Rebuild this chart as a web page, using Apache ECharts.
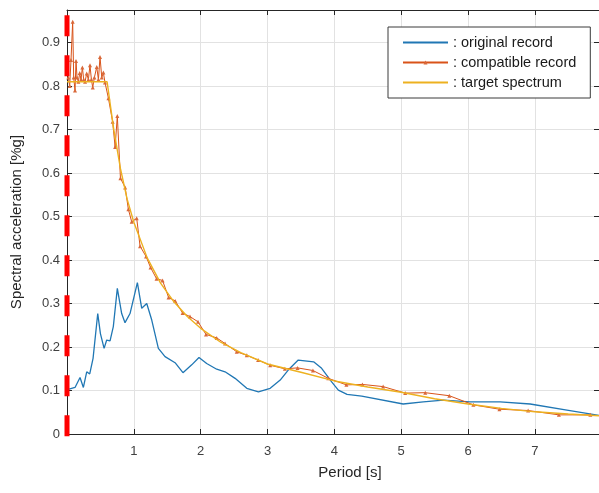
<!DOCTYPE html>
<html>
<head>
<meta charset="utf-8">
<script src="https://cdn.jsdelivr.net/npm/echarts@6/dist/echarts.min.js"></script>
<style>
html,body{margin:0;padding:0;background:#fff;}
#c{width:599px;height:493px;}
</style>
</head>
<body>
<div id="c"></div>
<script>
// ---- data ----
const xTickLabels = ['1','2','3','4','5','6','7'];
const yTickLabels = ['0','0.1','0.2','0.3','0.4','0.5','0.6','0.7','0.8','0.9'];
const seriesNames = [': original record', ': compatible record', ': target spectrum'];

const originalRecord = [
  [0.03,0.103],[0.12,0.107],[0.195,0.13],[0.245,0.107],[0.295,0.143],[0.34,0.138],[0.39,0.174],
  [0.46,0.277],[0.5,0.231],[0.555,0.197],[0.594,0.216],[0.644,0.214],[0.693,0.247],[0.753,0.335],
  [0.818,0.277],[0.868,0.256],[0.943,0.277],[1.053,0.348],[1.118,0.289],[1.193,0.300],[1.268,0.262],
  [1.367,0.197],[1.467,0.178],[1.617,0.164],[1.735,0.141],[1.866,0.159],[1.975,0.176],[2.09,0.162],
  [2.24,0.149],[2.365,0.143],[2.515,0.128],[2.69,0.105],[2.864,0.097],[3.04,0.105],[3.19,0.124],
  [3.31,0.147],[3.46,0.170],[3.69,0.166],[3.81,0.151],[3.96,0.120],[4.06,0.101],[4.19,0.091],
  [4.41,0.087],[5.03,0.069],[5.33,0.074],[5.63,0.078],[6.03,0.074],[6.48,0.074],[6.93,0.069],
  [7.48,0.055],[7.96,0.043]
];

const compatibleRecord = [
  [0.02,0.82],[0.04,0.80],[0.06,0.86],[0.085,0.948],[0.10,0.82],[0.12,0.79],[0.135,0.858],[0.15,0.82],
  [0.17,0.81],[0.19,0.83],[0.21,0.815],[0.23,0.843],[0.25,0.815],[0.27,0.81],[0.295,0.829],[0.32,0.815],
  [0.344,0.848],[0.365,0.815],[0.385,0.797],[0.41,0.82],[0.445,0.844],[0.47,0.815],[0.494,0.867],
  [0.52,0.82],[0.544,0.831],[0.569,0.808],[0.62,0.772],[0.683,0.718],[0.72,0.66],[0.753,0.731],
  [0.80,0.588],[0.87,0.567],[0.918,0.517],[0.968,0.488],[1.043,0.496],[1.093,0.432],[1.183,0.408],
  [1.25,0.383],[1.34,0.357],[1.43,0.353],[1.52,0.314],[1.62,0.306],[1.73,0.278],[1.84,0.270],
  [1.96,0.258],[2.08,0.229],[2.24,0.221],[2.365,0.208],[2.54,0.189],[2.69,0.181],[2.86,0.170],
  [3.04,0.158],[3.26,0.150],[3.45,0.152],[3.68,0.146],[3.91,0.128],[4.18,0.113],[4.42,0.114],
  [4.73,0.109],[5.06,0.094],[5.36,0.095],[5.72,0.088],[6.08,0.067],[6.47,0.057],[6.9,0.054],
  [7.36,0.044],[7.83,0.044]
];

const targetSpectrum = [
  [0.0,0.81],[0.6,0.81],[0.7,0.70],[0.8,0.61],[0.9,0.54],[1.0,0.487],[1.2,0.405],[1.4,0.347],
  [1.6,0.304],[1.8,0.27],[2.0,0.243],[2.3,0.211],[2.6,0.187],[3.0,0.161],[3.5,0.142],[4.0,0.122],
  [4.5,0.108],[5.0,0.096],[5.5,0.081],[6.0,0.069],[6.5,0.059],[7.0,0.051],[7.5,0.046],[7.96,0.042]
];

const markerLine = [[0,-0.005],[0,0.975]];

// ---- chart ----
const XMAX = 7.96, YMAX = 0.975;
const FONT = 'Liberation Sans, Arial, sans-serif';
const axisColor = '#262626';
const gridColor = '#e2e2e2';

const chart = echarts.init(document.getElementById('c'), null, {renderer:'canvas'});
const isInt = v => Math.abs(v - Math.round(v)) < 1e-6;
const isTenth = v => Math.abs(v*10 - Math.round(v*10)) < 1e-6;

chart.setOption({
  backgroundColor:'#ffffff',
  animation:false,
  grid:{left:67, right:0, top:10, bottom:59},
  legend:{
    data: [
      {name:seriesNames[0], itemStyle:{opacity:0}},
      {name:seriesNames[1]},
      {name:seriesNames[2], itemStyle:{opacity:0}}
    ],
    orient:'vertical',
    left:388, top:27,
    padding:[8,14,8,14],
    itemWidth:45, itemHeight:5, itemGap:5,
    backgroundColor:'#ffffff',
    borderColor:'#3a3a3a', borderWidth:1,
    textStyle:{fontFamily:FONT, fontSize:14.5, lineHeight:14, color:'#1a1a1a'},
    selectedMode:false
  },
  xAxis:[
    {type:'value', min:0, max:XMAX, interval:1, position:'bottom',
     axisLine:{show:true, onZero:false, lineStyle:{color:axisColor}},
     axisTick:{show:true, inside:true, length:5, lineStyle:{color:axisColor}},
     axisLabel:{showMaxLabel:false, margin:11, fontFamily:FONT, fontSize:13, color:'#404040',
       formatter: v => (isInt(v) && xTickLabels.includes(String(Math.round(v)))) ? String(Math.round(v)) : ''},
     splitLine:{show:true, lineStyle:{color:gridColor}}},
    {type:'value', min:0, max:XMAX, interval:1, position:'top',
     axisLine:{show:true, onZero:false, lineStyle:{color:axisColor}},
     axisTick:{show:true, inside:true, length:5, lineStyle:{color:axisColor}},
     axisLabel:{show:false}, splitLine:{show:false}}
  ],
  yAxis:[
    {type:'value', min:0, max:YMAX, interval:0.1, position:'left',
     axisLine:{show:true, onZero:false, lineStyle:{color:axisColor}},
     axisTick:{show:true, inside:true, length:5, lineStyle:{color:axisColor}},
     axisLabel:{showMaxLabel:false, margin:7, fontFamily:FONT, fontSize:13, color:'#404040',
       formatter: v => { if(!isTenth(v)) return ''; const s = (Math.round(v*10)/10).toString(); return yTickLabels.includes(s) ? s : ''; }},
     splitLine:{show:true, lineStyle:{color:gridColor}},
     name:'Spectral acceleration [%g]', nameLocation:'middle', nameGap:43,
     nameTextStyle:{fontFamily:FONT, fontSize:15, color:'#262626'}},
    {type:'value', min:0, max:YMAX, interval:0.1, position:'right',
     axisLine:{show:true, onZero:false, lineStyle:{color:axisColor}},
     axisTick:{show:true, inside:true, length:5, lineStyle:{color:axisColor}},
     axisLabel:{show:false}, splitLine:{show:false}}
  ],
  graphic:[
    {type:'text', x:350, y:473,
     style:{text:'Period [s]', fill:'#262626', font:'15px Liberation Sans, Arial, sans-serif',
            textAlign:'center', textVerticalAlign:'middle'}}
  ],
  series:[
    {name:seriesNames[0], type:'line', data:originalRecord, symbol:'none',
     lineStyle:{color:'#2077b4', width:1.3}, itemStyle:{color:'#2077b4'}, z:2},
    {name:seriesNames[1], type:'line', data:compatibleRecord, symbol:'triangle', symbolSize:4, showSymbol:true,
     lineStyle:{color:'#D95319', width:1}, itemStyle:{color:'#D9693a'}, z:3},
    {name:seriesNames[2], type:'line', data:targetSpectrum, symbol:'none',
     lineStyle:{color:'#EDB120', width:1.4}, itemStyle:{color:'#EDB120'}, z:4},
    {name:'bound', type:'line', data:markerLine, symbol:'none', clip:false, silent:true,
     lineStyle:{color:'#ff0000', width:5, type:[21,19], cap:'butt'}, z:10}
  ]
});
</script>
</body>
</html>
